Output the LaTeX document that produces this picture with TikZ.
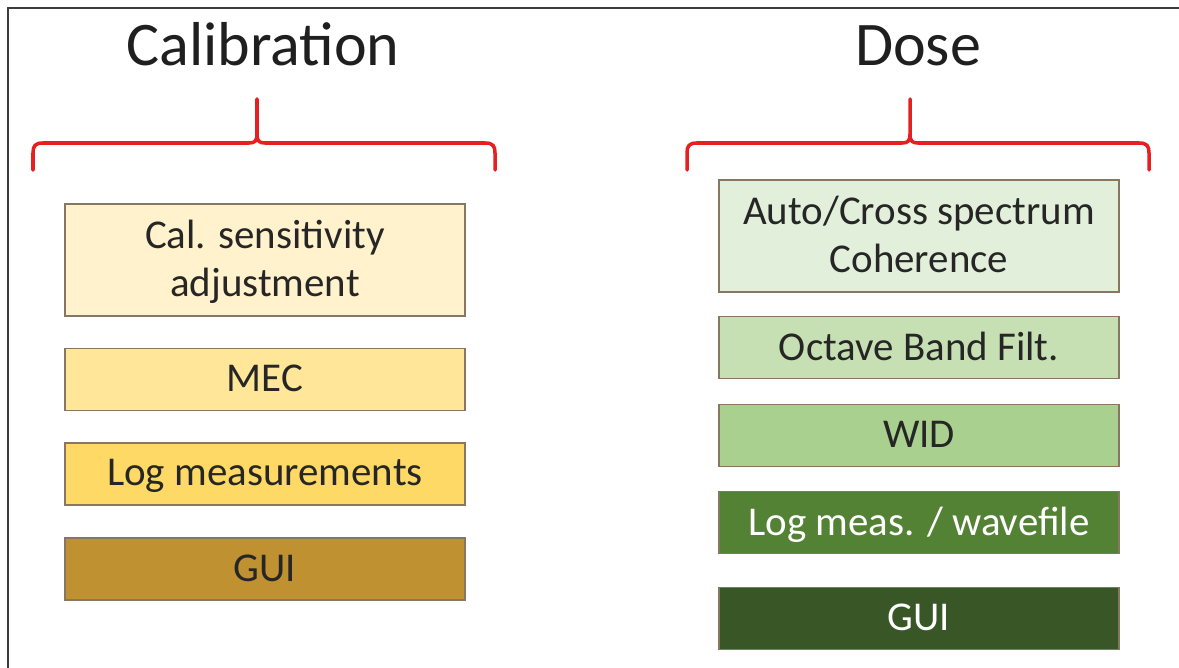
\documentclass[tikz,border=0pt]{standalone}
\usepackage{fontspec}
\setmainfont{Carlito}
\definecolor{bracered}{RGB}{228,32,32}
\definecolor{boxline}{RGB}{135,118,96}
\definecolor{frame}{RGB}{60,60,60}
\definecolor{yA}{RGB}{255,242,204}
\definecolor{yB}{RGB}{255,230,153}
\definecolor{yC}{RGB}{255,217,102}
\definecolor{yD}{RGB}{191,145,48}
\definecolor{gA}{RGB}{226,239,218}
\definecolor{gB}{RGB}{198,224,180}
\definecolor{gC}{RGB}{169,208,142}
\definecolor{gD}{RGB}{84,130,53}
\definecolor{gE}{RGB}{57,87,38}
\begin{document}
\begin{tikzpicture}[x=0.02cm,y=-0.02cm,
  blk/.style={draw=boxline,line width=0.7pt,minimum width=8cm,minimum height=1.24cm,inner sep=0pt,align=center,
    font=\fontsize{23.3}{27.3}\selectfont,text=black!85,text depth=0.3ex},
  tallblk/.style={blk,minimum height=2.24cm},
  ttl/.style={anchor=base,font=\fontsize{35.3}{40}\selectfont,text=black!88,inner sep=0pt},
  brace/.style={draw=bracered,line width=2pt,line cap=round,line join=round}]
\useasboundingbox (0,0) rectangle (1179,668);
\coordinate (fc) at (8,8);
\coordinate (fb) at (8,670);
\coordinate (fr) at (1181,8);
\draw[frame,line width=1.2pt] (fb) -- (fc) -- (fr);
% titles
\node[ttl] (tcal) at (263,66) {Calibration};
\node[ttl] (tdose) at (918,66) {Dose};
% braces
\draw[brace] (33,170) -- (33,153) .. controls (33,146) and (35,143) .. (43,143) -- (249,143)
  .. controls (255,143) and (257,141) .. (257,134) -- (257,99)
  -- (257,134) .. controls (257,141) and (259,143) .. (265,143) -- (485,143)
  .. controls (493,143) and (495,146) .. (495,153) -- (495,170);
\draw[brace] (687,170) -- (687,153) .. controls (687,146) and (689,143) .. (697,143) -- (902,143)
  .. controls (908,143) and (910,141) .. (910,134) -- (910,99)
  -- (910,134) .. controls (910,141) and (912,143) .. (918,143) -- (1139,143)
  .. controls (1147,143) and (1149,146) .. (1149,153) -- (1149,170);
% left boxes
\node[tallblk,fill=yA] (cal) at (265,260) {Cal. sensitivity\\adjustment};
\node[blk,fill=yB] (mec) at (265,379.5) {MEC};
\node[blk,fill=yC] (logm) at (265,474) {Log measurements};
\node[blk,fill=yD] (guiL) at (265,569) {GUI};
% right boxes
\node[tallblk,fill=gA] (auto) at (919,236) {Auto/Cross spectrum\\Coherence};
\node[blk,fill=gB] (oct) at (919,347.5) {Octave Band Filt.};
\node[blk,fill=gC] (wid) at (919,435.5) {WID};
\node[blk,fill=gD,text=white] (logw) at (919,522.5) {Log meas. / wavefile};
\node[blk,fill=gE,text=white] (guiR) at (919,618.5) {GUI};
\end{tikzpicture}
\end{document}
